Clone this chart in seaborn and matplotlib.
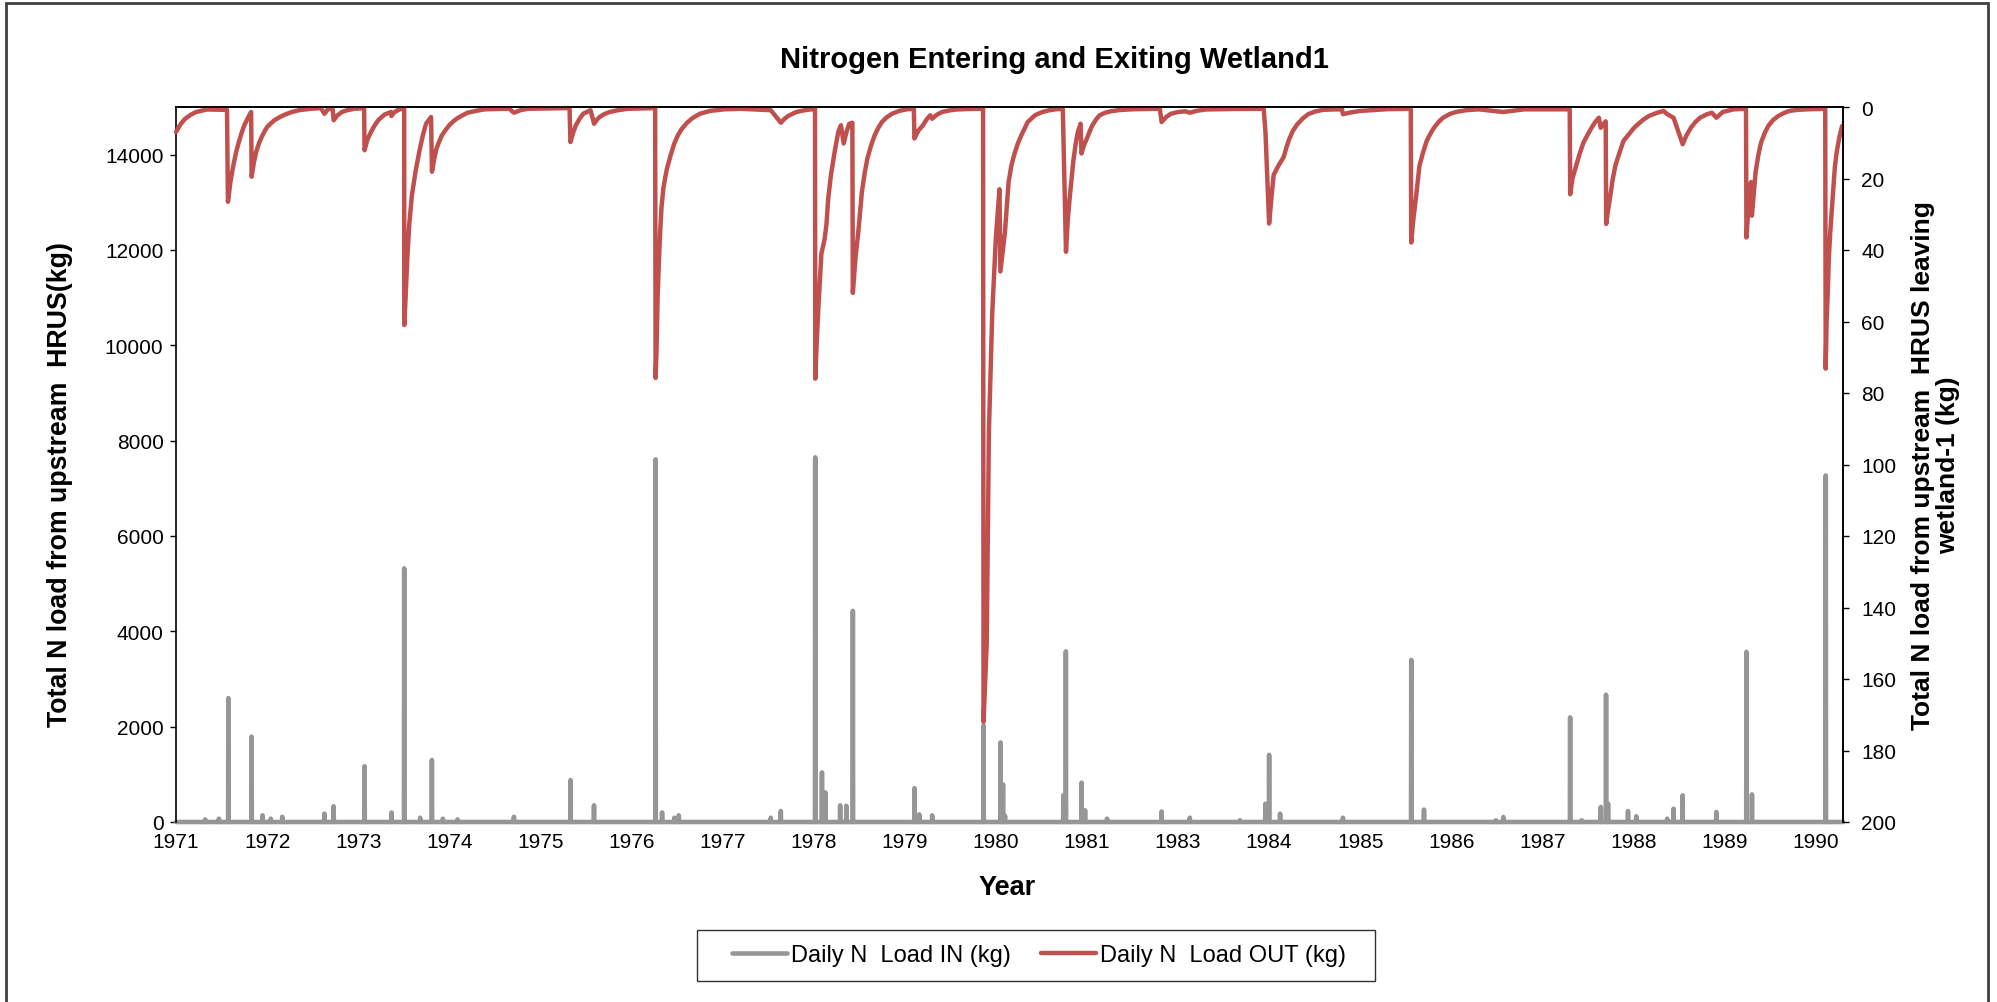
import numpy as np
import pandas as pd
import matplotlib
matplotlib.use("Agg")
import matplotlib.pyplot as plt
from matplotlib.lines import Line2D
from matplotlib.patches import Rectangle
import seaborn as sns

# ---------------- data ----------------
# x position is years elapsed since the start of the record (1 Jan 1971)
year_labels = ["1971", "1972", "1973", "1974", "1975", "1976", "1977", "1978",
               "1979", "1980", "1981", "1983", "1984", "1985", "1986", "1987",
               "1988", "1989", "1990"]
record_years = 18.3

# daily N load entering the wetland (kg); all other days are zero
in_year = [0.32, 0.47, 0.576, 0.83, 0.95, 1.04, 1.165, 1.63, 1.73, 2.07,
           2.365, 2.506, 2.68, 2.81, 2.93, 3.09, 3.71, 4.33, 4.59, 5.265,
           5.335, 5.47, 5.52, 6.53, 6.64, 7.018, 7.09, 7.13, 7.29, 7.36,
           7.43, 8.106, 8.16, 8.30, 8.865, 9.05, 9.08, 9.10, 9.74, 9.77,
           9.94, 9.98, 10.22, 10.82, 11.13, 11.68, 11.96, 12.0, 12.12, 12.81,
           13.56, 13.70, 14.49, 14.57, 15.305, 15.43, 15.64, 15.70, 15.72, 15.94,
           16.03, 16.37, 16.44, 16.54, 16.91, 17.24, 17.30, 18.11]
in_load = [55, 70, 2600, 1790, 140, 70, 110, 175, 330, 1170,
           200, 5320, 90, 1300, 70, 55, 110, 880, 350, 7610,
           200, 90, 140, 90, 230, 7650, 1040, 620, 350, 340,
           4430, 710, 160, 140, 2030, 1670, 790, 130, 560, 3580,
           825, 245, 70, 220, 90, 35, 385, 1410, 175, 90,
           3400, 260, 35, 105, 2195, 35, 315, 2670, 385, 230,
           120, 70, 280, 560, 210, 3570, 580, 7270]

# daily N load leaving the wetland (kg), plotted on the inverted right axis
out_year = [0.00, 0.05, 0.10, 0.16, 0.22, 0.34, 0.56,
            0.57, 0.60, 0.63, 0.66, 0.69, 0.72, 0.75, 0.79, 0.825,
            0.83, 0.855, 0.88, 0.91, 0.94, 0.97, 1.00, 1.04, 1.08, 1.14, 1.20, 1.27, 1.35, 1.46, 1.59,
            1.63, 1.67, 1.72, 1.73, 1.77, 1.82, 1.88, 1.96, 2.065,
            2.07, 2.10, 2.14, 2.18, 2.22, 2.29, 2.36, 2.365, 2.40, 2.45, 2.505,
            2.506, 2.52, 2.54, 2.56, 2.59, 2.63, 2.67, 2.71, 2.745, 2.80,
            2.81, 2.835, 2.86, 2.89, 2.92, 2.96, 3.00, 3.04, 3.08, 3.14, 3.20, 3.29, 3.39, 3.52, 3.66,
            3.71, 3.78, 3.86, 4.08, 4.32,
            4.33, 4.36, 4.39, 4.43, 4.47, 4.55,
            4.59, 4.62, 4.65, 4.70, 4.76, 4.85, 4.96, 5.26,
            5.265, 5.275, 5.287, 5.30, 5.315, 5.33, 5.35, 5.37, 5.39, 5.43, 5.47, 5.51,
            5.55, 5.61, 5.67, 5.75, 5.86, 6.02, 6.20,
            6.53, 6.64, 6.68, 6.72, 6.81, 6.90, 6.98, 7.015,
            7.018, 7.03, 7.05, 7.065, 7.085, 7.12, 7.14, 7.16, 7.19, 7.23, 7.27, 7.30,
            7.33, 7.36, 7.39, 7.425,
            7.43, 7.46, 7.49, 7.53, 7.56, 7.59, 7.63, 7.67, 7.71, 7.75, 7.80, 7.86, 7.94, 8.02, 8.10,
            8.106, 8.15, 8.20, 8.24, 8.28, 8.30, 8.35, 8.41, 8.49, 8.57, 8.70, 8.86,
            8.865, 8.90, 8.924, 8.96, 9.00, 9.04, 9.05, 9.10, 9.14, 9.17, 9.20, 9.24, 9.28,
            9.35, 9.43, 9.51, 9.59, 9.67, 9.735,
            9.74, 9.77, 9.79, 9.81, 9.85, 9.875, 9.90, 9.93, 9.94, 9.97, 10.00, 10.03, 10.06,
            10.10, 10.14, 10.20, 10.26, 10.36, 10.49, 10.65, 10.80,
            10.82, 10.87, 10.92, 11.00, 11.08, 11.13, 11.20, 11.30, 11.60, 11.94,
            11.96, 12.00, 12.03, 12.05, 12.10, 12.16, 12.19, 12.22, 12.26, 12.31, 12.37, 12.43,
            12.50, 12.59, 12.69, 12.80,
            12.81, 12.90, 13.00, 13.30, 13.555,
            13.56, 13.585, 13.61, 13.65, 13.69, 13.73, 13.77, 13.81, 13.86, 13.91, 13.98, 14.05,
            14.16, 14.30,
            14.57, 14.80, 15.30,
            15.305, 15.33, 15.37, 15.41, 15.45, 15.50, 15.54, 15.58, 15.62, 15.64, 15.695,
            15.70, 15.72, 15.74, 15.77, 15.80, 15.85, 15.89, 15.95, 16.00, 16.05, 16.11, 16.17,
            16.25, 16.33, 16.37, 16.44,
            16.54, 16.58, 16.63, 16.68, 16.73, 16.80, 16.86, 16.91, 16.98, 17.10, 17.235,
            17.24, 17.265, 17.29, 17.30, 17.34, 17.37, 17.40, 17.44, 17.48, 17.53, 17.59, 17.65,
            17.71, 17.80, 17.91, 18.105,
            18.11, 18.12, 18.13, 18.145, 18.16, 18.19, 18.21, 18.23, 18.26, 18.29]
out_load = [7.0, 4.8, 3.3, 2.2, 1.4, 0.7, 0.8,
            26.5, 20.5, 16.3, 12.6, 9.8, 7.3, 5.1, 3.0, 1.4,
            19.5, 15.5, 12.6, 10.2, 8.4, 6.9, 5.6, 4.6, 3.7, 2.8, 2.1, 1.4, 0.9, 0.55, 0.3,
            1.9, 0.5, 0.6, 3.7, 2.4, 1.4, 0.9, 0.5, 0.3,
            12.1, 9.2, 7.0, 5.2, 3.7, 2.1, 1.4, 2.5, 1.4, 0.7, 0.3,
            61.0, 53.5, 42.0, 33.0, 24.6, 18.0, 12.6, 7.9, 4.7, 2.8,
            18.1, 14.5, 11.6, 9.6, 7.9, 6.4, 5.1, 4.1, 3.3, 2.4, 1.6, 1.1, 0.65, 0.55, 0.5,
            1.6, 0.9, 0.5, 0.4, 0.3,
            9.8, 7.2, 5.1, 3.3, 1.9, 0.9,
            4.7, 3.6, 2.8, 2.0, 1.4, 0.9, 0.5, 0.3,
            75.8, 68.0, 53.5, 44.0, 35.0, 28.0, 22.8, 19.8, 17.2, 13.5, 10.2, 7.9,
            6.2, 4.4, 3.1, 1.9, 1.1, 0.65, 0.5,
            0.9, 4.4, 3.3, 2.5, 1.4, 0.9, 0.65, 0.5,
            76.0, 68.0, 57.0, 50.0, 41.0, 37.0, 33.0, 25.6, 19.0, 12.6, 7.0, 5.1,
            10.2, 7.0, 4.7, 4.4,
            52.0, 42.0, 35.0, 23.7, 18.5, 14.4, 10.8, 7.9, 5.8, 4.2, 2.9, 1.9, 1.1, 0.65, 0.5,
            8.8, 6.6, 5.1, 3.5, 2.3, 3.3, 2.2, 1.4, 0.95, 0.7, 0.55, 0.5,
            172.0, 150.0, 90.7, 58.0, 36.7, 23.0, 46.0, 35.0, 21.0, 16.5, 13.5, 10.3, 7.9,
            4.2, 2.3, 1.4, 0.9, 0.6, 0.5,
            6.0, 40.5, 31.5, 25.6, 15.3, 10.5, 7.0, 4.7, 13.0, 10.5, 8.8, 6.8, 5.1,
            3.5, 2.3, 1.6, 1.2, 0.85, 0.65, 0.55, 0.5,
            4.2, 2.8, 1.9, 1.4, 1.2, 1.6, 1.1, 0.7, 0.55, 0.5,
            7.0, 32.6, 24.0, 19.0, 16.5, 14.0, 11.3, 9.0, 6.7, 4.8, 3.2, 2.0,
            1.3, 0.8, 0.7, 0.65,
            2.0, 1.5, 1.1, 0.6, 0.5,
            37.9, 31.0, 25.8, 16.5, 12.7, 9.5, 7.5, 5.8, 4.2, 3.0, 2.0, 1.4,
            0.9, 0.65,
            1.4, 0.65, 0.65,
            24.4, 20.0, 16.5, 13.0, 10.0, 7.6, 5.8, 4.2, 3.0, 5.8, 4.0,
            32.7, 29.0, 25.8, 20.5, 16.5, 12.5, 9.5, 7.6, 6.0, 4.8, 3.5, 2.5,
            1.7, 1.1, 2.0, 3.0,
            10.4, 8.0, 5.8, 4.2, 3.0, 2.1, 1.6, 3.0, 1.4, 0.65, 0.5,
            36.5, 27.0, 21.0, 30.4, 18.3, 13.5, 10.0, 7.3, 5.3, 3.7, 2.5, 1.7,
            1.1, 0.8, 0.65, 0.5,
            73.2, 60.0, 53.7, 42.0, 35.0, 24.0, 17.0, 12.7, 8.5, 5.3]

GRAY = "#969696"
RED = "#C0504D"

# daily inflow series on a day grid
n_days = int(round(record_years * 365.25)) + 1
day_year = np.arange(n_days) / 365.25
daily_in = np.zeros(n_days)
daily_in[np.rint(np.array(in_year) * 365.25).astype(int)] = in_load
df_in = pd.DataFrame({"year": day_year, "load": daily_in})
df_out = pd.DataFrame({"year": out_year, "load": out_load})

# ---------------- style ----------------
sns.set_style("white")
plt.rcParams["font.family"] = ["Liberation Sans", "DejaVu Sans"]
plt.rcParams["text.color"] = "black"
plt.rcParams["axes.labelcolor"] = "black"

W, H = 1997, 1003
fig = plt.figure(figsize=(W / 100, H / 100), dpi=100)
fig.patch.set_facecolor("white")

x0, x1, y0, y1 = 176, 1843, 108, 823
ax = fig.add_axes([x0 / W, 1 - y1 / H, (x1 - x0) / W, (y1 - y0) / H])

sns.lineplot(data=df_in, x="year", y="load", ax=ax, color=GRAY, lw=3.3,
             estimator=None, sort=False, legend=False)
for ln in ax.lines:
    ln.set_clip_on(False)
    ln.set_solid_capstyle("round")

ax2 = ax.twinx()
sns.lineplot(data=df_out, x="year", y="load", ax=ax2, color=RED, lw=3.2,
             estimator=None, sort=False, legend=False)
for ln in ax2.lines:
    ln.set_clip_on(False)
    ln.set_solid_joinstyle("round")
    ln.set_solid_capstyle("round")

ax.set_xlim(0, record_years)
ax.set_ylim(0, 15000)
ax2.set_ylim(200, 0)

ax.set_xticks(range(len(year_labels)))
ax.set_xticklabels(year_labels)
ax.set_yticks(np.arange(0, 15001, 2000))
ax2.set_yticks(np.arange(0, 201, 20))

for a in (ax, ax2):
    for s in a.spines.values():
        s.set_color("black")
        s.set_linewidth(1.2)
ax.spines["bottom"].set_zorder(1.5)
ax2.spines["bottom"].set_visible(False)
ax2.spines["left"].set_visible(False)

ax.tick_params(axis="both", direction="out", length=4, width=1, color="black",
               labelsize=15, labelcolor="black")
ax.tick_params(axis="y", pad=5)
ax.tick_params(axis="x", pad=3)
ax2.tick_params(axis="y", direction="out", length=4, width=1, color="black",
                labelsize=15, labelcolor="black", pad=9)

ax.set_xlabel("Year", fontsize=19.5, fontweight="bold", va="center")
ax.xaxis.set_label_coords(0.4985, -0.091)
ax.set_ylabel("Total N load from upstream  HRUS(kg)", fontsize=19.3,
              fontweight="bold", va="center", ha="center")
ax.yaxis.set_label_coords(-0.0696, 0.473)
ax2.set_ylabel("Total N load from upstream  HRUS leaving\nwetland-1 (kg)",
               fontsize=19, fontweight="bold", rotation=90, va="center",
               ha="center", linespacing=1.1)
ax2.yaxis.set_label_coords(1.0555, 0.5)

ax.set_title("Nitrogen Entering and Exiting Wetland1", fontsize=21,
             fontweight="bold", x=0.5267, y=(y1 - 60) / (y1 - y0), pad=0,
             va="center", color="black")

# legend below the plot
handles = [Line2D([], [], color=GRAY, lw=3.3), Line2D([], [], color=RED, lw=3.2)]
labels = ["Daily N  Load IN (kg)", "Daily N  Load OUT (kg)"]
fig.legend(handles, labels, loc="center", bbox_to_anchor=(1039 / W, 1 - 956.5 / H),
           ncol=2, frameon=False, fontsize=17, handlelength=2.33,
           handletextpad=0.17, columnspacing=1.3)
fig.add_artist(Rectangle((697 / W, 1 - 982 / H), 678 / W, 51 / H,
                         transform=fig.transFigure, fill=False,
                         edgecolor="#333333", lw=1))
# chart-area frame
fig.add_artist(Rectangle((6 / W, -0.02), 1982 / W, 1.02 - 4 / H,
                         transform=fig.transFigure, fill=False,
                         edgecolor="#404040", lw=2, clip_on=False))

fig.savefig("out.png", dpi=100)
